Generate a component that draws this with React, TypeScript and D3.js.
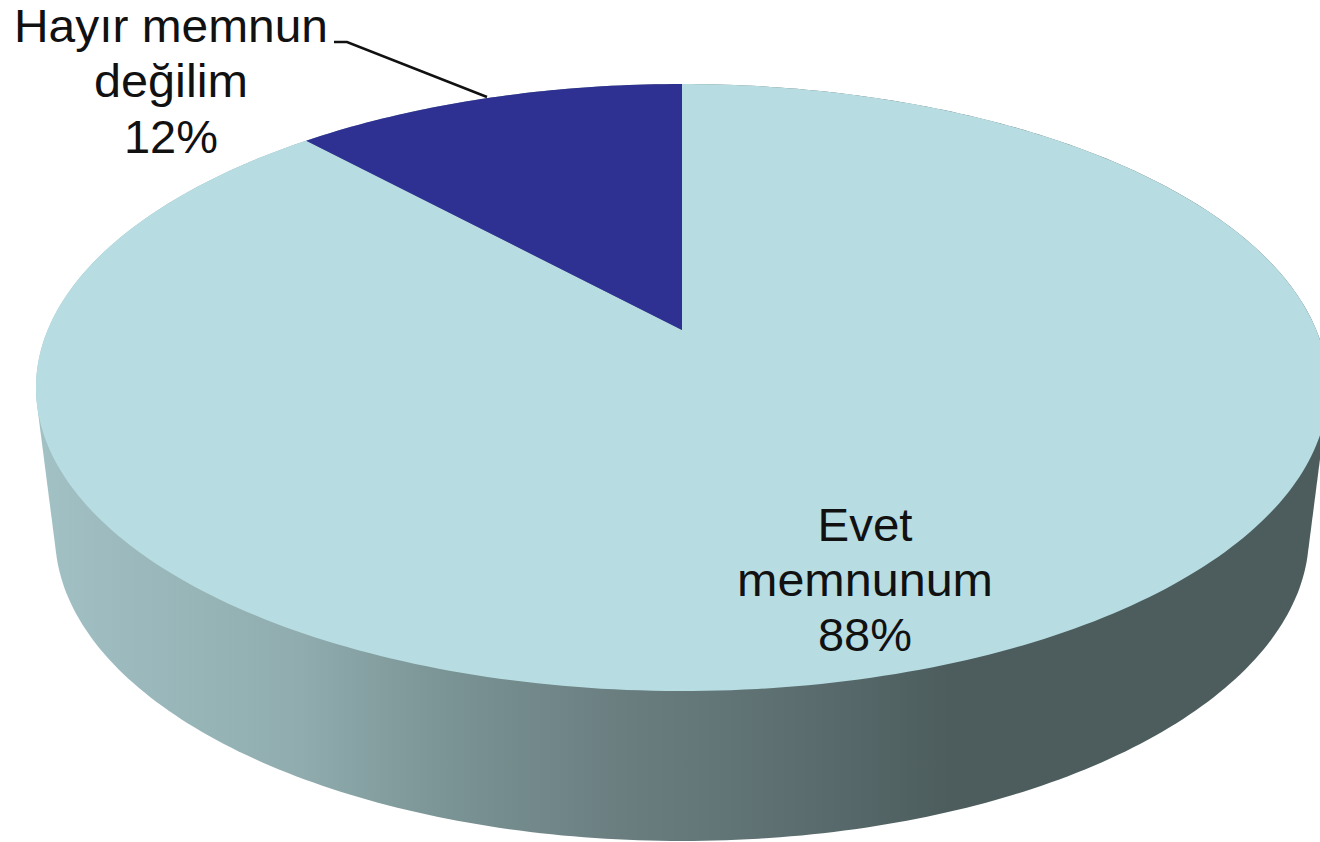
import React from "react";
import * as d3 from "d3";

const categories = ["Evet memnunum", "Hayır memnun değilim"];
const shares = [88.2, 11.8];
const sliceColors = ["#b7dde2", "#2e3192"];
const sideStops: [number, string][] = [
  [40, "#a2c1c5"],
  [300, "#90acae"],
  [450, "#7a9394"],
  [620, "#6a7e80"],
  [800, "#5b6d6f"],
  [950, "#4d5d5e"],
  [1320, "#4d5d5e"],
];
const W = 1320;
const H = 842;
const apex = { x: 682, y: 330 };
const K = 0.1895;
const SX = 634.3;
const SY = 292.6;

// perspective view of the unit circle: far side compressed
const project = (a: number, r = 1): [number, number] => {
  const x = r * Math.sin(a);
  const y = r * Math.cos(a);
  const w = 1 + K * y;
  return [apex.x + (SX * x) / w, apex.y - (SY * y) / w];
};
const lineGen = d3.line();
const sliceGen = d3.pie<number>().sort(null);
const arcs = sliceGen(shares);

const rim = (a0: number, a1: number) => {
  const n = Math.max(2, Math.ceil(Math.abs(a1 - a0) * 60));
  return d3.range(n + 1).map((i) => project(a0 + ((a1 - a0) * i) / n));
};
const bottomRim = d3
  .range(360)
  .map((i): [number, number] => [
    682 + 627 * Math.sin((i * Math.PI) / 180),
    535 + 306 * Math.cos((i * Math.PI) / 180),
  ]);
const sideHull = d3.polygonHull([...rim(0, Math.PI * 2), ...bottomRim]) as [number, number][];

const labels = [
  { lines: ["Hayır memnun", "değilim", "12%"], x: 171, y: [42, 97, 153], widths: [314, 154, 94] },
  { lines: ["Evet", "memnunum", "88%"], x: 865, y: [541, 596, 651], widths: [95, 256, 94] },
];
const leader: [number, number][] = [
  [334, 42],
  [347, 42],
  [487, 97],
];

export default function App() {
  return (
    <svg
      width={W}
      height={H}
      viewBox={`0 0 ${W} ${H}`}
      style={{ position: "absolute", left: 0, top: 0, background: "#fff" }}
    >
      <defs>
        <linearGradient id="side" gradientUnits="userSpaceOnUse" x1={0} x2={W} y1={0} y2={0}>
          {sideStops.map(([x, c]) => (
            <stop key={x} offset={x / W} stopColor={c} />
          ))}
        </linearGradient>
      </defs>
      <path d={lineGen(sideHull) + "Z"} fill="url(#side)" />
      {arcs.map((arc, i) => (
        <path
          key={categories[i]}
          d={lineGen([[apex.x, apex.y], ...rim(arc.startAngle, arc.endAngle)]) + "Z"}
          fill={sliceColors[i]}
        />
      ))}
      <path d={lineGen(leader) ?? ""} fill="none" stroke="#111" strokeWidth={2.5} />
      {labels.map((l) =>
        l.lines.map((t, i) => (
          <text
            key={t}
            x={l.x}
            y={l.y[i]}
            textAnchor="middle"
            textLength={l.widths[i]}
            lengthAdjust="spacingAndGlyphs"
            fontFamily="Liberation Sans, Arial, sans-serif"
            fontSize={47}
            fill="#111"
          >
            {t}
          </text>
        ))
      )}
    </svg>
  );
}
